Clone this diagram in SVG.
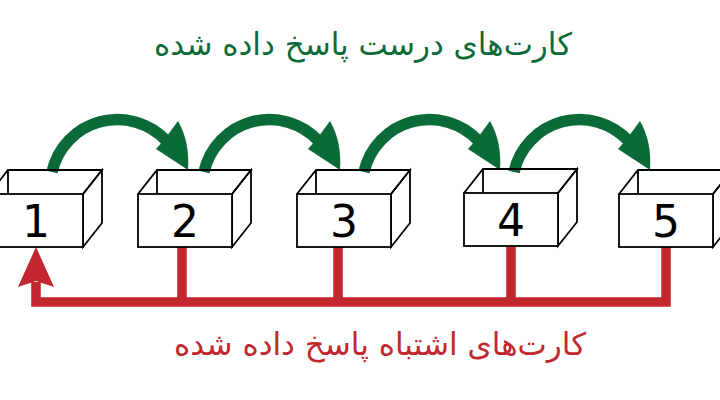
<svg xmlns="http://www.w3.org/2000/svg" width="720" height="400" viewBox="0 0 720 400">
<style>
.face{fill:#fff;stroke:#000;stroke-width:1.8;stroke-linejoin:miter}
.edge{fill:none;stroke:#000;stroke-width:1.8}
.num{font-family:"DejaVu Sans",sans-serif;font-size:44px;fill:#000;text-anchor:middle}
.g{fill:none;stroke:#0b6b38;stroke-width:11.5}
.gh{fill:#0b6b38}
.r{fill:none;stroke:#c1272d;stroke-width:9.5}
.rh{fill:#c1272d}
.t{font-family:"DejaVu Sans","Noto Sans",sans-serif;text-anchor:middle}
</style>
<defs>
<g id="boxshape">
<polygon class="face" points="94,0 113,-24 113,29 94,53"/>
<rect class="face" x="0" y="0" width="94" height="53"/>
<path class="edge" d="M0,0 L19,-24 L113,-24 L94,0 M19,-24 L19,0"/>
</g>
<g id="garrow">
<path class="g" d="M0,172 A67,67 0 0 1 114.8,141.2"/>
<path class="gh" d="M104,149 L112,140 L126,121 Q138,142 136,170 Z"/>
</g>
</defs>
<g id="connectors">
<use href="#garrow" transform="translate(52,0)"/>
<use href="#garrow" transform="translate(204,0)"/>
<use href="#garrow" transform="translate(364,0)"/>
<use href="#garrow" transform="translate(514,0)"/>
<path class="r" d="M36,282 L36,302 L666,302 L666,247 M182,247 L182,302 M338,247 L338,302 M511,246 L511,302"/>
<polygon class="rh" points="36,247 54,287 36,281 18,287"/>
</g>
<g id="box1" transform="translate(-11,194)"><use href="#boxshape"/><text class="num" x="47" y="43">1</text></g>
<g id="box2" transform="translate(138,194)"><use href="#boxshape"/><text class="num" x="47" y="43">2</text></g>
<g id="box3" transform="translate(297,194)"><use href="#boxshape"/><text class="num" x="47" y="43">3</text></g>
<g id="box4" transform="translate(464,193)"><use href="#boxshape"/><text class="num" x="47" y="43">4</text></g>
<g id="box5" transform="translate(619,194)"><use href="#boxshape"/><text class="num" x="47" y="43">5</text></g>
<text class="t" x="363" y="55" font-size="31" fill="#0b6b38">کارت‌های درست پاسخ داده شده</text>
<text class="t" x="380" y="355" font-size="31" fill="#c1272d">کارت‌های اشتباه پاسخ داده شده</text>
</svg>
